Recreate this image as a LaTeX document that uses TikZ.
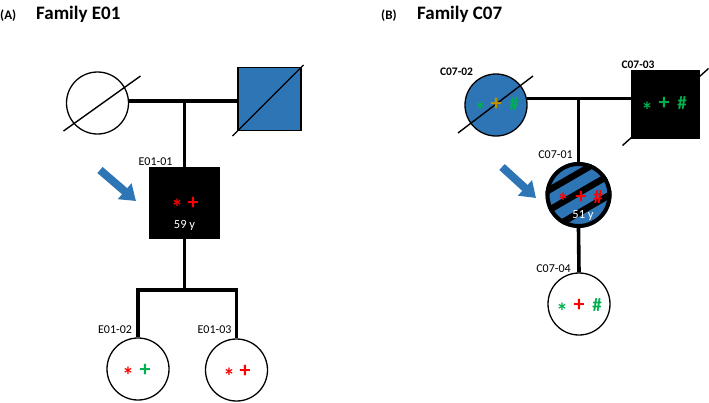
\documentclass[tikz,border=0pt]{standalone}
\usepackage{fontspec}
\setmainfont{Carlito}
\usetikzlibrary{arrows.meta,calc}
\definecolor{pblue}{HTML}{2E75B6}
\definecolor{pgreen}{HTML}{00B050}
\definecolor{pgold}{HTML}{BF9000}
\definecolor{pred}{HTML}{FF0000}
\begin{document}
\begin{tikzpicture}[x=1pt,y=-1pt,
  fem/.style={circle, draw, line width=1.3pt, minimum size=62pt, inner sep=0pt, fill=white},
  male/.style={rectangle, draw, line width=1.3pt, minimum size=63pt, inner sep=0pt},
  link/.style={line width=3.6pt},
  slash/.style={line width=1.4pt},
  lbl/.style={font=\fontsize{12}{13}\selectfont, inner sep=0pt},
  blbl/.style={font=\bfseries\fontsize{11.5}{13}\selectfont, inner sep=0pt},
  ast/.style={font=\bfseries\fontsize{23}{23}\selectfont, inner sep=0pt},
  plus/.style={font=\bfseries\fontsize{22}{22}\selectfont, inner sep=0pt},
  hash/.style={font=\bfseries\fontsize{19}{19}\selectfont, inner sep=0pt},
  age/.style={font=\fontsize{12.5}{13}\selectfont, text=white, inner sep=0pt},
  proband/.style={line width=8pt, pblue, -{Triangle[width=20pt,length=15pt]}},
  ttl/.style={font=\bfseries\fontsize{19}{20}\selectfont, anchor=west, inner sep=0pt},
  tsub/.style={font=\bfseries\fontsize{13}{14}\selectfont, anchor=west, inner sep=0pt}
]
\useasboundingbox (0,0) rectangle (709,402);
% titles
\node[tsub] (tA) at (0,16) {(A)};
\node[ttl] (tAf) at (36,14) {Family E01};
\node[tsub] (tB) at (381,16) {(B)};
\node[ttl] (tBf) at (417,14) {Family C07};

% ---------- Family E01 ----------
\node[fem] (a1) at (97.5,103) {};
\node[male, fill=pblue] (a2) at (269.5,99) {};
\node[male, fill=black, minimum size=70pt] (a3) at (184.5,203) {};
\node[fem] (a4) at (138,369) {};
\node[fem] (a5) at (236.5,370) {};
\coordinate (jb) at (184.5,290);

\draw[link] (a1.4) -- (a1.4 -| a2.west);
\draw[link] (a3.north |- a1.4) -- (a3.north);
\draw[link] (a3.south) -- (jb);
\draw[link, line join=miter] (a4.north) |- (jb) -| (a5.north);

\draw[slash] ($(a1)+(-34,28)$) -- ($(a1)+(43,-27)$);
\draw[slash] ($(a2)+(-37,37)$) -- ($(a2)+(34,-34)$);

\node[lbl] (la3) at (155.5,162) {E01-01};
\node[lbl] (la4) at (115,330) {E01-02};
\node[lbl] (la5) at (214.5,330) {E01-03};

\node[ast, text=pred] (a3s1) at (177,207) {*};
\node[plus, text=pred] (a3s2) at (193,203) {+};
\node[age] (a3age) at (184.5,225) {59 y};
\node[ast, text=pred] (a4s1) at (128,375) {*};
\node[plus, text=pgreen] (a4s2) at (145,370) {+};
\node[ast, text=pred] (a5s1) at (229,376) {*};
\node[plus, text=pred] (a5s2) at (245,371) {+};

\coordinate (arA0) at (100,170);
\coordinate (arA1) at (136,201);
\draw[proband] (arA0) -- (arA1);

% ---------- Family C07 ----------
\node[fem, fill=pblue] (b1) at (496,105) {};
\node[male, fill=black, minimum size=67pt] (b2) at (665.5,104.5) {};
\draw[slash] ($(b2)+(-43,41)$) -- ($(b2)+(43,-36)$);
\node[male, fill=black, minimum size=67pt] (b2top) at (665.5,104.5) {};
\node[circle, fill=pblue, minimum size=66pt, inner sep=0pt] (p2) at (578.5,195) {};
\begin{scope}
  \clip (p2.center) circle (33);
  \foreach \o in {-22,-2,18} {
    \draw[line width=6.5pt] ($(p2.center)+(-50,\o+29)$) -- ($(p2.center)+(50,\o-29)$);
  }
\end{scope}
\draw[line width=4pt] (p2.center) circle (31);
\node[fem] (b4) at (579,304) {};

\draw[link] (b1.12) -- (b1.12 -| b2.west);
\draw[link] (p2.north |- b1.12) -- (p2.north);
\draw[link] (p2.south) -- (b4.north);

\draw[slash] ($(b1)+(-38,28)$) -- ($(b1)+(37,-29)$);

\node[blbl] (lb1) at (456.5,72) {C07-02};
\node[blbl] (lb2) at (638,65) {C07-03};
\node[lbl] (lp2) at (555.5,155) {C07-01};
\node[lbl] (lb4) at (553.5,269) {C07-04};

\node[ast, text=pgreen] (b1s1) at (480,110) {*};
\node[plus, text=pgold] (b1s2) at (496,104) {+};
\node[hash, text=pgreen] (b1s3) at (514,104) {\#};

\node[ast, text=pgreen] (b2s1) at (647,110) {*};
\node[plus, text=pgreen] (b2s2) at (664,103) {+};
\node[hash, text=pgreen] (b2s3) at (682,103) {\#};

\node[ast, text=pred] (p2s1) at (563,201) {*};
\node[plus, text=pred] (p2s2) at (581,197) {+};
\node[hash, text=pred] (p2s3) at (598,197) {\#};
\node[age] (p2age) at (583,215) {51 y};

\node[ast, text=pgreen] (b4s1) at (562,311) {*};
\node[plus, text=pred] (b4s2) at (579,305) {+};
\node[hash, text=pgreen] (b4s3) at (597,305) {\#};

\coordinate (arB0) at (502,167);
\coordinate (arB1) at (536,198);
\draw[proband] (arB0) -- (arB1);
\end{tikzpicture}
\end{document}
